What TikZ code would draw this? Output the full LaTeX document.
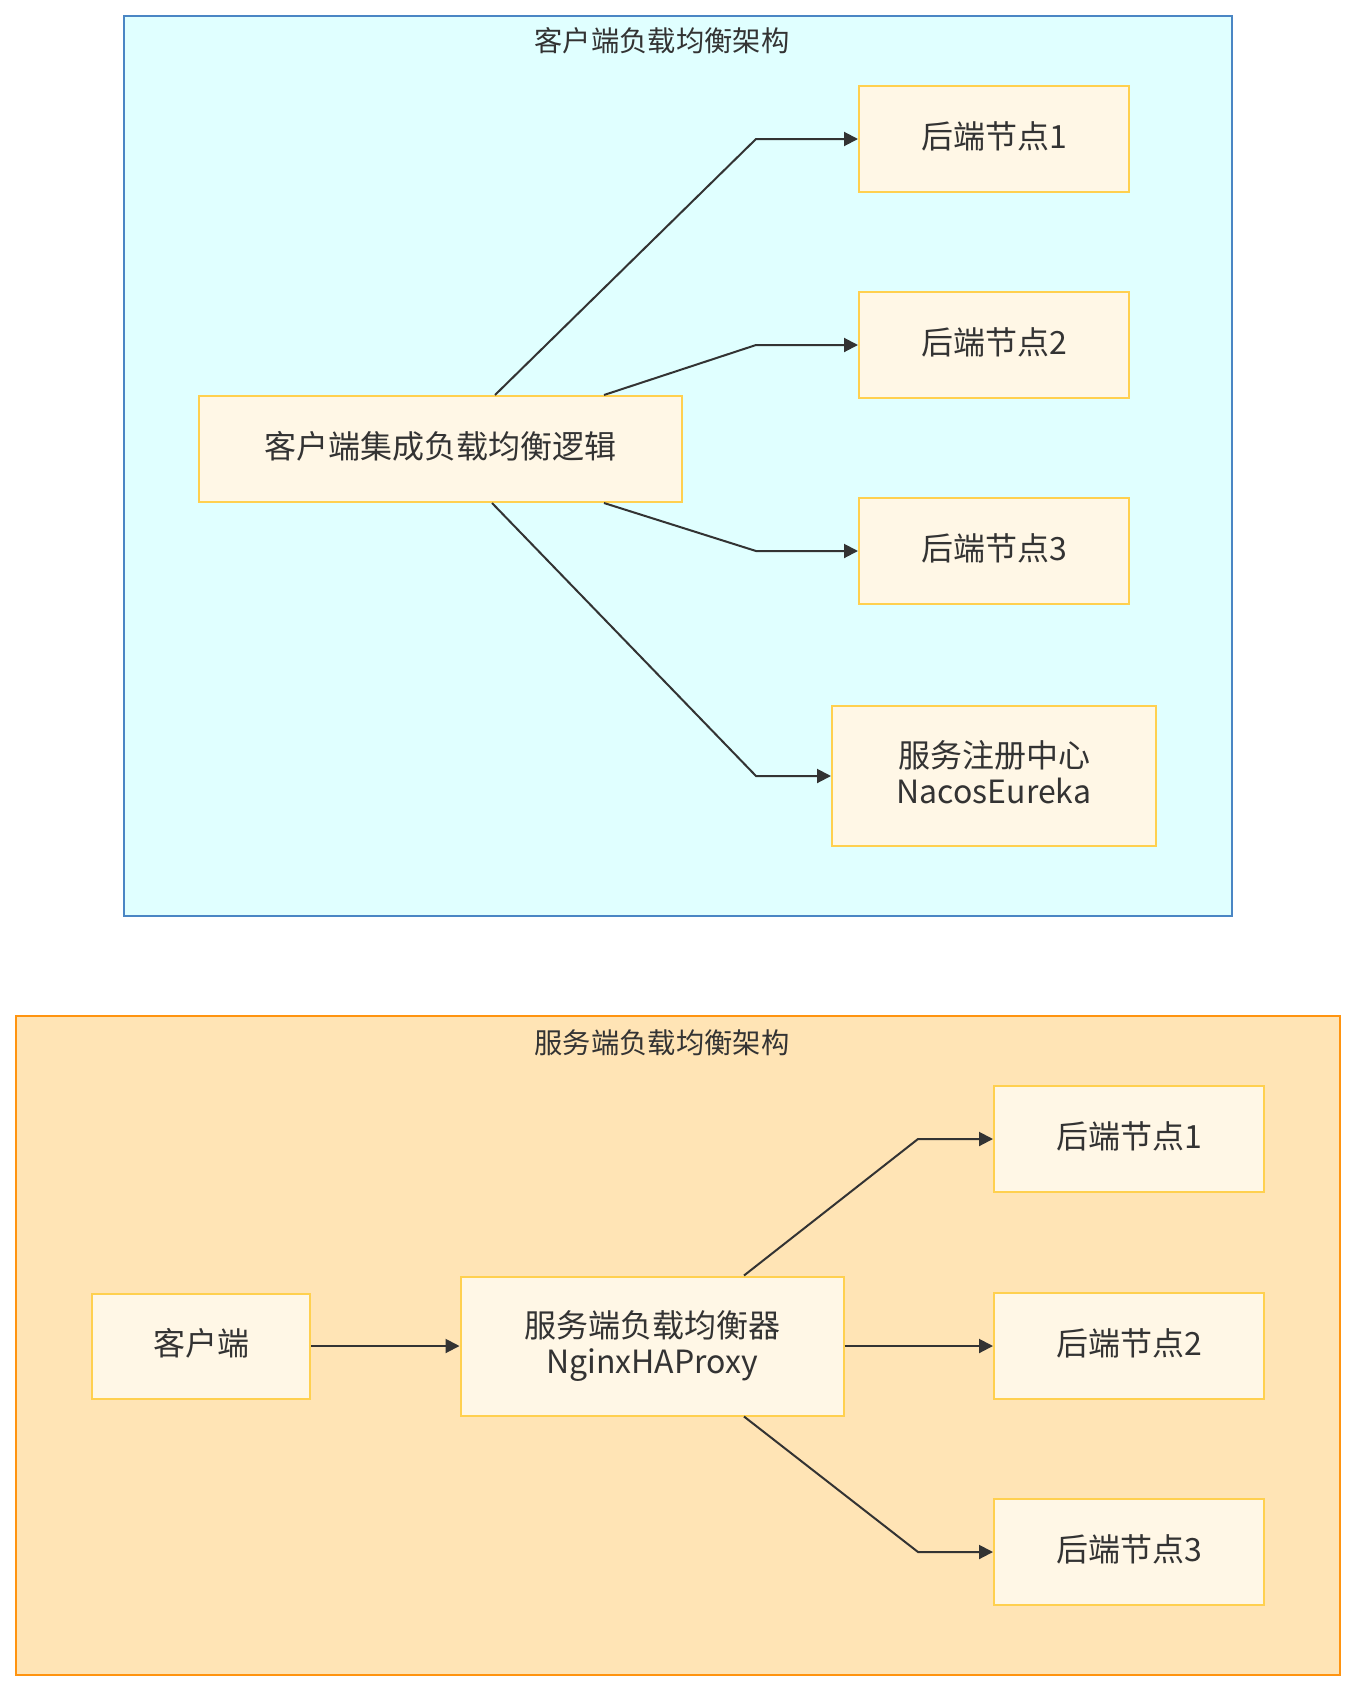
\documentclass[tikz,border=0pt]{standalone}
\usepackage{fontspec}
\setmainfont{Noto Sans CJK SC}
\usetikzlibrary{arrows.meta}
\definecolor{txt}{HTML}{333333}
\definecolor{nodefill}{HTML}{FFF7E6}
\definecolor{nodeborder}{HTML}{FFD04F}
\definecolor{cyanfill}{HTML}{E0FFFF}
\definecolor{cyanborder}{HTML}{4A86C4}
\definecolor{orangefill}{HTML}{FFE4B5}
\definecolor{orangeborder}{HTML}{FF9410}
\tikzset{
  box/.style={draw=nodeborder, fill=nodefill, line width=2pt, text=txt,
    font=\fontsize{32}{36}\selectfont, align=center, inner sep=0pt},
  txtlbl/.style={text=txt, font=\fontsize{32}{36}\selectfont, align=center, inner sep=0pt},
  title/.style={text=txt, font=\fontsize{28.3}{32}\selectfont, inner sep=0pt},
  link/.style={draw=txt, line width=2pt, -{Triangle[length=14pt,width=14pt]}},
}
\begin{document}
\begin{tikzpicture}[x=1pt,y=-1pt]
\useasboundingbox (0,0) rectangle (1356,1692);
\fill[white] (0,0) rectangle (1356,1692);
% cluster 1
\draw[cyanborder, fill=cyanfill, line width=2pt] (124,16) rectangle (1232,916);
\node[title] (t1) at (662,41) {客户端负载均衡架构};
\node[box, minimum width=483pt, minimum height=106pt] (m) at (440,449) {};
\node[txtlbl] (mt) at (440,446) {客户端集成负载均衡逻辑};
\node[box, minimum width=270pt, minimum height=106pt] (b1) at (994,139) {};
\node[txtlbl] (b1t) at (994,136) {后端节点1};
\node[box, minimum width=270pt, minimum height=106pt] (b2) at (994,345) {};
\node[txtlbl] (b2t) at (994,342) {后端节点2};
\node[box, minimum width=270pt, minimum height=106pt] (b3) at (994,551) {};
\node[txtlbl] (b3t) at (994,548) {后端节点3};
\node[box, minimum width=324pt, minimum height=140pt] (reg) at (994,776) {};
\node[txtlbl] (regt) at (994,772) {服务注册中心\\NacosEureka};
\draw[link] ([xshift=55pt]m.north) -- (756,139) -- (b1.west);
\draw[link] ([xshift=164pt]m.north) -- (756,345) -- (b2.west);
\draw[link] ([xshift=164pt]m.south) -- (756,551) -- (b3.west);
\draw[link] ([xshift=52pt]m.south) -- (756,776) -- (reg.west);
% cluster 2
\draw[orangeborder, fill=orangefill, line width=2pt] (16,1016) rectangle (1340,1675);
\node[title] (t2) at (662,1043) {服务端负载均衡架构};
\node[box, minimum width=218pt, minimum height=105pt] (c) at (201,1346) {};
\node[txtlbl] (ct) at (201,1343) {客户端};
\node[box, minimum width=383pt, minimum height=139pt] (lb) at (652,1346) {};
\node[txtlbl] (lbt) at (652,1346) {服务端负载均衡器\\NginxHAProxy};
\node[box, minimum width=270pt, minimum height=106pt] (n1) at (1129,1139) {};
\node[txtlbl] (n1t) at (1129,1136) {后端节点1};
\node[box, minimum width=270pt, minimum height=106pt] (n2) at (1129,1346) {};
\node[txtlbl] (n2t) at (1129,1343) {后端节点2};
\node[box, minimum width=270pt, minimum height=106pt] (n3) at (1129,1552) {};
\node[txtlbl] (n3t) at (1129,1549) {后端节点3};
\draw[link] (c.east) -- (lb.west);
\draw[link] (lb.east) -- (n2.west);
\draw[link] ([xshift=92pt]lb.north) -- (918,1139) -- (n1.west);
\draw[link] ([xshift=92pt]lb.south) -- (918,1552) -- (n3.west);
\end{tikzpicture}
\end{document}
